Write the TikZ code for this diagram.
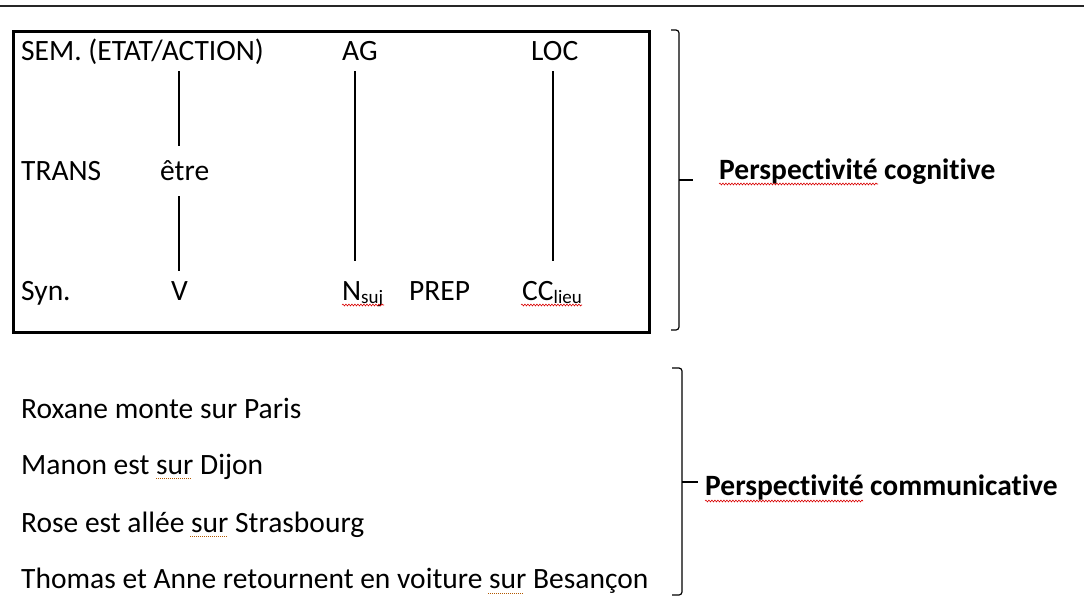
\documentclass[tikz,border=0pt]{standalone}
\usepackage{fontspec}
\setmainfont{Carlito}[Ligatures=NoCommon]
\usetikzlibrary{decorations.pathmorphing}
\begin{document}
\begin{tikzpicture}[x=1pt,y=-1pt,
  lbl/.style={anchor=base west,inner sep=0pt,font=\fontsize{29.5}{34}\selectfont},
  blbl/.style={anchor=base west,inner sep=0pt,font=\fontsize{29.5}{34}\selectfont\bfseries},
  link/.style={line width=1.1pt},
  bracket/.style={line width=1.2pt,rounded corners=3pt},
  spell/.style={red!85!black,line width=0.6pt,decorate,decoration={snake,amplitude=0.9pt,segment length=3pt}},
  gram/.style={draw=orange!70!black,line width=1pt,dash pattern=on 1pt off 1pt}
]
\useasboundingbox (0,0) rectangle (1084,600);
% top rule
\coordinate (tl) at (0,6);
\coordinate (tr) at (1084,6);
\draw[line width=2.6pt,black!85] (tl) -- (tr);
% box
\node[draw,line width=3pt,inner sep=0pt,minimum width=636pt,minimum height=301pt,anchor=north west] (box) at (12,29.5) {};
% row 1
\node[lbl] (sem) at (21,60) {SEM. (ETAT/ACTION)};
\node[lbl] (ag) at (342,60) {AG};
\node[lbl] (loc) at (531,60) {LOC};
% row 2
\node[lbl] (trans) at (21,180) {TRANS};
\node[lbl] (etre) at (160,180) {être};
% row 3
\node[lbl] (syn) at (21,300) {Syn.};
\node[lbl] (v) at (171,300) {V};
\node[lbl] (nsuj) at (342,300) {N\raisebox{-3pt}{\fontsize{19}{22}\selectfont suj}};
\node[lbl] (prep) at (409,300) {PREP};
\node[lbl] (cc) at (522,300) {CC\raisebox{-3pt}{\fontsize{19}{22}\selectfont lieu}};
% vertical links
\coordinate (e1) at (179,71);
\coordinate (e2) at (179,146);
\coordinate (e3) at (179,196);
\coordinate (e4) at (179,271);
\coordinate (a1) at (355,71);
\coordinate (a2) at (355,261);
\coordinate (l1) at (553,71);
\coordinate (l2) at (553,261);
\draw[link] (e1) -- (e2);
\draw[link] (e3) -- (e4);
\draw[link] (a1) -- (a2);
\draw[link] (l1) -- (l2);
% bracket 1
\coordinate (b1t) at (671,30);
\coordinate (b1b) at (671,330);
\coordinate (b1m) at (693,180);
\draw[bracket] (b1t) -| (679,180) -| (679,330) -- (b1b);
\draw[bracket] (679,180) -- (b1m);
\node[blbl] (cog) at (719,179) {Perspectivité cognitive};
% sentences
\node[lbl] (s1) at (21,418) {Roxane monte sur Paris};
\node[lbl] (s2) at (21,474) {Manon est sur Dijon};
\node[lbl] (s3) at (21,532) {Rose est allée sur Strasbourg};
\node[lbl] (s4) at (21,588) {Thomas et Anne retournent en voiture sur Besançon};
% bracket 2
\coordinate (b2t) at (672,368);
\coordinate (b2b) at (672,595);
\coordinate (b2m) at (698,482);
\draw[bracket] (b2t) -| (682,482) -| (682,595) -- (b2b);
\draw[bracket] (682,482) -- (b2m);
\node[blbl] (com) at (705,495) {Perspectivité communicative};
% spelling marks
\draw[spell] (342,305) -- (384,305);
\draw[spell] (521,305) -- (582,305);
\draw[spell] (719,184) -- (878,184);
\draw[spell] (705,501) -- (863,501);
\draw[gram] (156,478) -- (192,478);
\draw[gram] (190,536) -- (228,536);
\draw[gram] (488,593) -- (524,593);
\end{tikzpicture}
\end{document}
